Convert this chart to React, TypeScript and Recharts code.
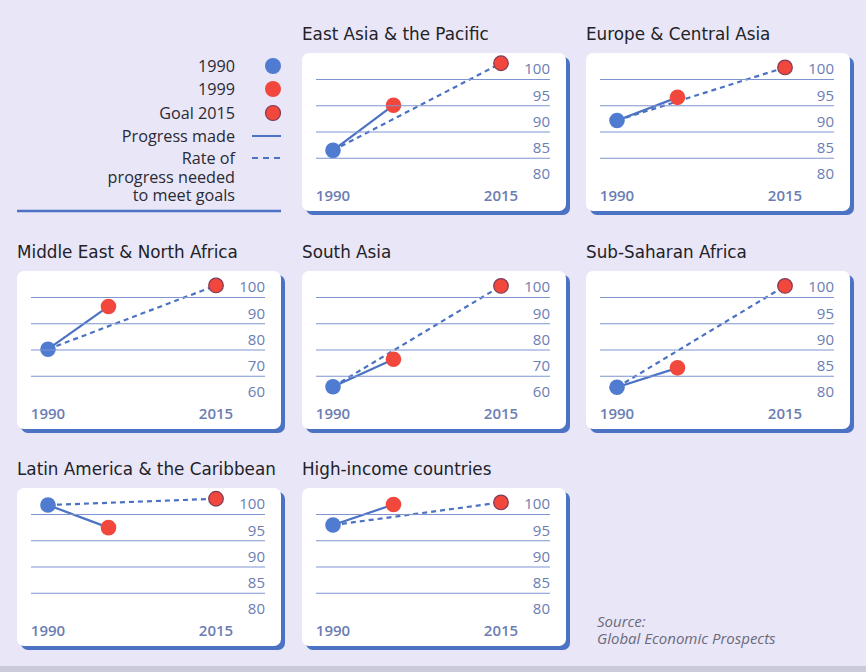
import React from 'react';
import { ComposedChart, Line, XAxis, YAxis } from 'recharts';

const regions = [
  'East Asia & the Pacific',
  'Europe & Central Asia',
  'Middle East & North Africa',
  'South Asia',
  'Sub-Saharan Africa',
  'Latin America & the Caribbean',
  'High-income countries',
];
const value1990 = [84.5, 90.2, 76.3, 62, 80.9, 99.8, 96];
const value1999 = [93.1, 94.6, 92.6, 72.5, 84.6, 95.5, 99.9];
const goal2015 = [101.1, 100.3, 100.6, 100.4, 100.2, 101, 100.3];
const ticksFine = [80, 85, 90, 95, 100];
const ticksWide = [60, 70, 80, 90, 100];
const regionTicks = [ticksFine, ticksFine, ticksWide, ticksWide, ticksFine, ticksFine, ticksFine];
const yearTicks = [1990, 2015];

// grid slots: [col, row]
const SLOTS = [[1, 0], [2, 0], [0, 1], [1, 1], [2, 1], [0, 2], [1, 2]];
const COL_X = [17, 302, 586];
const ROW_Y = [53, 271, 488];
const PANEL_W = 264;
const PANEL_H = 158;
const PLOT_LEFT = 31;
const PLOT_W = 168;
const PLOT_TOP = 16; // where the top tick sits
const PLOT_H = 105; // distance from top tick to bottom tick
const HEADROOM = 0.1; // extra room above top tick so goal dots are not clipped

const BLUE = '#4b72c3';
const GRID = '#7f95cf';
const LABEL = '#6b7db3';
const RED = '#f2473c';
const FONT = '"Open Sans", "Noto Sans", sans-serif';
const TITLE_FONT = '"DejaVu Sans", sans-serif';

const YTick = (props: any) => {
  const { x, y, payload, lowest } = props;
  return (
    <g>
      {payload.value !== lowest && (
        <line x1={x - PLOT_W - 17} x2={x + 49} y1={y + 10.5} y2={y + 10.5} stroke={GRID} strokeWidth={1.2} />
      )}
      <text x={x + 49} y={y} dy="0.36em" textAnchor="end" fill={LABEL} fontSize={15} fontFamily={FONT}>
        {payload.value}
      </text>
    </g>
  );
};

const XTick = (props: any) => {
  const { x, y, payload } = props;
  return (
    <text x={x} y={y + 22} dy="0.36em" textAnchor="middle" fill={LABEL} fontSize={15} fontFamily={FONT} fontWeight={600}>
      {payload.value}
    </text>
  );
};

const Panel = ({ i }: { i: number }) => {
  const ticks = regionTicks[i];
  const lo = ticks[0];
  const hi = ticks[ticks.length - 1];
  const progress = [
    { year: 1990, value: value1990[i] },
    { year: 1999, value: value1999[i] },
  ];
  const needed = [
    { year: 1990, value: value1990[i] },
    { year: 2015, value: goal2015[i] },
  ];
  const [c, r] = SLOTS[i];
  const left = COL_X[c];
  const top = ROW_Y[r];
  const topPad = PLOT_H * HEADROOM;
  return (
    <>
      <div
        style={{
          position: 'absolute',
          left: left,
          top: top - 29,
          fontFamily: TITLE_FONT,
          fontSize: 16.8,
          color: '#222228',
          whiteSpace: 'nowrap',
        }}
      >
        {regions[i]}
      </div>
      <div
        style={{
          position: 'absolute',
          left: left,
          top: top,
          width: PANEL_W,
          height: PANEL_H,
          background: '#fff',
          borderRadius: 7,
          boxShadow: `4px 4px 0 0 ${BLUE}`,
        }}
      >
        <ComposedChart
          width={PANEL_W}
          height={PANEL_H}
          margin={{ top: PLOT_TOP - topPad, right: 0, bottom: 0, left: PLOT_LEFT }}
        >
          <XAxis
            type="number"
            dataKey="year"
            domain={[1990, 2015]}
            ticks={yearTicks}
            height={PANEL_H - PLOT_TOP - PLOT_H}
            axisLine={false}
            tickLine={false}
            tickSize={0}
            tickMargin={0}
            tick={<XTick />}
          />
          <YAxis
            orientation="right"
            type="number"
            domain={[lo, hi + (hi - lo) * HEADROOM]}
            ticks={ticks}
            width={PANEL_W - PLOT_LEFT - PLOT_W}
            axisLine={false}
            tickLine={false}
            tickSize={0}
            tickMargin={0}
            tick={<YTick lowest={lo} />}
            interval={0}
          />
          <Line
            data={needed}
            dataKey="value"
            stroke={BLUE}
            strokeWidth={2.2}
            strokeDasharray="5 4"
            dot={false}
            isAnimationActive={false}
          />
          <Line data={progress} dataKey="value" stroke={BLUE} strokeWidth={2.2} dot={false} isAnimationActive={false} />
          <Line
            data={progress.slice(0, 1)}
            dataKey="value"
            stroke="none"
            dot={{ r: 7.8, fill: '#4f7bd0', stroke: 'none' }}
            isAnimationActive={false}
          />
          <Line
            data={progress.slice(1)}
            dataKey="value"
            stroke="none"
            dot={{ r: 7.8, fill: RED, stroke: 'none' }}
            isAnimationActive={false}
          />
          <Line
            data={needed.slice(1)}
            dataKey="value"
            stroke="none"
            dot={{ r: 7.3, fill: RED, stroke: '#7d3a58', strokeWidth: 1.2 }}
            isAnimationActive={false}
          />
        </ComposedChart>
      </div>
    </>
  );
};

const Legend = () => (
  <svg width={300} height={220} style={{ position: 'absolute', left: 0, top: 0 }}>
    <g fontFamily={FONT} fontSize={16.2} fill="#2a2a34" textAnchor="end">
      <text x={235} y={66} dy="0.36em">1990</text>
      <text x={235} y={89} dy="0.36em">1999</text>
      <text x={235} y={113} dy="0.36em">Goal 2015</text>
      <text x={235} y={136} dy="0.36em">Progress made</text>
      <text x={235} y={158} dy="0.36em">
        <tspan x={235}>Rate of</tspan>
        <tspan x={235} dy={19}>progress needed</tspan>
        <tspan x={235} dy={18}>to meet goals</tspan>
      </text>
    </g>
    <circle cx={273} cy={66} r={8} fill="#4f7bd0" />
    <circle cx={273} cy={89} r={8} fill={RED} />
    <circle cx={273} cy={113} r={7.5} fill={RED} stroke="#7d3a58" strokeWidth={1.2} />
    <line x1={252} x2={281} y1={136} y2={136} stroke={BLUE} strokeWidth={2} />
    <line x1={252} x2={281} y1={158} y2={158} stroke={BLUE} strokeWidth={2} strokeDasharray="6 5" />
    <line x1={17} x2={281} y1={211} y2={211} stroke={BLUE} strokeWidth={2.5} />
  </svg>
);

export default function App() {
  return (
    <div
      style={{
        position: 'absolute',
        left: 0,
        top: 0,
        width: 866,
        height: 672,
        background: '#e8e6f7',
        overflow: 'hidden',
      }}
    >
      <Legend />
      {regions.map((_, i) => (
        <Panel key={i} i={i} />
      ))}
      <svg width={220} height={40} style={{ position: 'absolute', left: 590, top: 610 }}>
        <text fontFamily={FONT} fontSize={15} fontStyle="italic" fill="#6a6a7c">
          <tspan x={7} y={17}>Source:</tspan>
          <tspan x={7} dy={17}>Global Economic Prospects</tspan>
        </text>
      </svg>
      <div style={{ position: 'absolute', left: 0, top: 666, width: 866, height: 6, background: '#cbcadb' }} />
    </div>
  );
}
